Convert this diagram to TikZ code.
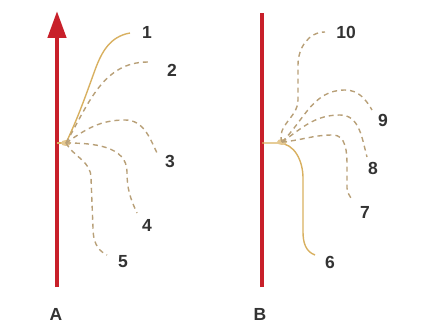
\documentclass[tikz,border=0pt]{standalone}
\usepackage{fontspec}
\setmainfont{Liberation Sans}
\usetikzlibrary{arrows.meta}
\definecolor{stemred}{HTML}{C8202A}
\definecolor{strand}{HTML}{D8B060}
\definecolor{dstrand}{HTML}{B8A078}
\definecolor{labgray}{HTML}{333333}
\tikzset{
  stem/.style={line width=4.5pt, stemred},
  solidstrand/.style={line width=1.4pt, strand},
  dashstrand/.style={line width=1.4pt, dstrand, dash pattern=on 5pt off 4pt},
  lab/.style={font=\fontsize{17.5}{17.5}\selectfont\bfseries, text=labgray, inner sep=0pt},
}
\begin{document}
\begin{tikzpicture}[x=1pt,y=-1pt]
\useasboundingbox (0,0) rectangle (431,326);
% ---------- Panel A ----------
\coordinate (Abot) at (57,287);
\coordinate (Atop) at (57,11);
\draw[stem, -{Triangle[length=27pt,width=18pt]}] (Abot) -- (Atop);
\coordinate (Aon) at (57,143);
\coordinate (Aj) at (66,143);
\draw[solidstrand] (Aon) -- (Aj);
\fill[strand!70] (Aj) ellipse (5pt and 3pt);
\coordinate (a1) at (130,33);
\coordinate (a2) at (148,62);
\coordinate (a3) at (157,153);
\coordinate (a4) at (137,213);
\coordinate (a5) at (107,255);
\draw[solidstrand] (Aj) to[out=65,in=-110] (95,70) to[out=70,in=190] (a1);
\draw[dashstrand] (Aj) to[out=60,in=180] (a2);
\draw[dashstrand] (Aj) to[out=35,in=180] (125,120) to[out=0,in=115] (a3);
\draw[dashstrand] (Aj) to[out=0,in=90] (127,172) to[out=-90,in=115] (a4);
\draw[dashstrand] (Aj) to[out=-60,in=90] (91,178) -- (93,228) to[out=-90,in=155] (a5);
\node[lab] (l1) at (147,32) {1};
\node[lab] (l2) at (172,70) {2};
\node[lab] (l3) at (170,161) {3};
\node[lab] (l4) at (147,225) {4};
\node[lab] (l5) at (123,262) {5};
\node[lab] (lA) at (56,314) {A};
% ---------- Panel B ----------
\coordinate (Bbot) at (262,287);
\coordinate (Btop) at (262,13);
\draw[stem] (Bbot) -- (Btop);
\coordinate (Bon) at (262,143);
\coordinate (Bj) at (282,142);
\coordinate (b6) at (315,255);
\coordinate (b7) at (352,200);
\coordinate (b8) at (367,157);
\coordinate (b9) at (372,110);
\coordinate (b10) at (325,32);
\draw[solidstrand] (Bon) -- (278,143) to[out=0,in=90] (303,178) -- (303,232) to[out=-90,in=160] (b6);
\fill[strand!70] (Bj) ellipse (5pt and 3pt);
\draw[dashstrand] (Bj) to[out=5,in=180] (333,135) to[out=0,in=90] (347,165) -- (347,188) to[out=-90,in=115] (b7);
\draw[dashstrand] (Bj) to[out=35,in=180] (340,115) to[out=0,in=105] (b8);
\draw[dashstrand] (Bj) to[out=45,in=180] (345,90) to[out=0,in=120] (b9);
\draw[dashstrand] (Bj) to[out=110,in=-90] (298,100) -- (298,65) to[out=90,in=180] (b10);
\node[lab] (l6) at (330,262) {6};
\node[lab] (l7) at (365,212) {7};
\node[lab] (l8) at (373,168) {8};
\node[lab] (l9) at (383,120) {9};
\node[lab] (l10) at (346,32) {10};
\node[lab] (lB) at (260,314) {B};
\end{tikzpicture}
\end{document}
